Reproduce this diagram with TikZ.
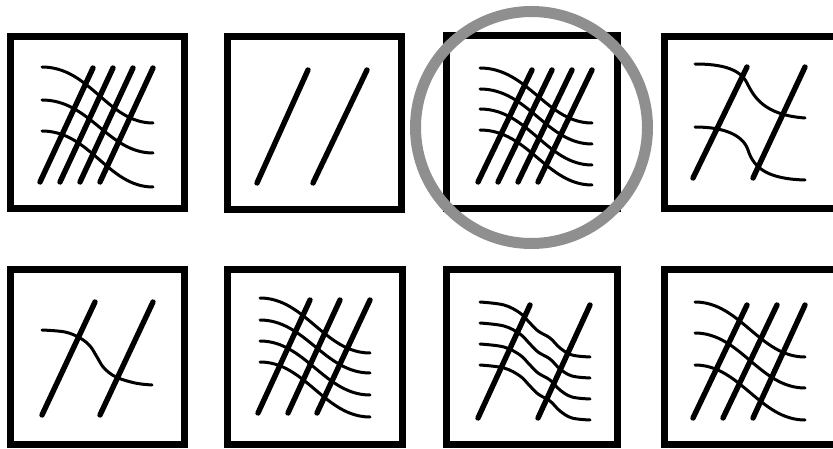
\documentclass[tikz,border=0pt]{standalone}
\definecolor{ringgray}{RGB}{143,143,143}
\begin{document}
\begin{tikzpicture}[x=1pt,y=-1pt,
  frame/.style={line width=7pt},
  fault/.style={line width=5.4pt, line cap=round},
  layer/.style={line width=3pt, line cap=round}]
\useasboundingbox (0,0) rectangle (833,449);
\clip (0,0) rectangle (833,449);
\fill[white] (0,0) rectangle (833,449);
% frames
\draw[frame] (10,37) rectangle (184,209);
\draw[frame] (227,37) rectangle (401,210);
\draw[frame] (446,36) rectangle (617,209);
\draw[frame] (664,37) rectangle (838,209);
\draw[frame] (10,270) rectangle (184,444);
\draw[frame] (227,270) rectangle (402,444);
\draw[frame] (446,270) rectangle (617,444);
\draw[frame] (664,270) rectangle (838,444);
% box 1
\begin{scope}[shift={(10,37)}]
  \foreach \a/\b in {83/30,103/50,123/70,143/90}
    \draw[fault] (\a,31) -- (\b,145);
  \foreach \s/\e in {30/86,63/116,94/150}
    \draw[layer] (32,\s) .. controls +(48,0) and +(-45,0) .. (143,\e);
\end{scope}
% box 2
\begin{scope}[shift={(227,37)}]
  \draw[fault] (81,33) -- (30,146);
  \draw[fault] (140,33) -- (86,146);
\end{scope}
% box 3
\begin{scope}[shift={(446,36)}]
  \foreach \a/\b in {86/32,106/52,126/72,146/92}
    \draw[fault] (\a,34) -- (\b,146);
  \foreach \s/\e in {32/87,53/108,73/129,94/149}
    \draw[layer] (34,\s) .. controls +(48,0) and +(-45,0) .. (146,\e);
\end{scope}
% box 4
\begin{scope}[shift={(664,37)}]
  \draw[fault] (83,30) -- (29,141);
  \draw[fault] (141,30) -- (89,141);
  \draw[layer] (31,27) .. controls (58,27) and (76,32) .. (83,46)
               .. controls (90,60) and (100,78) .. (141,81);
  \draw[layer] (31,90) .. controls (60,90) and (79,98) .. (84,113)
               .. controls (90,132) and (105,142) .. (141,143);
\end{scope}
% box 5
\begin{scope}[shift={(10,270)}]
  \draw[fault] (85,32) -- (32,145);
  \draw[fault] (143,32) -- (90,145);
  \draw[layer] plot[smooth,tension=0.6] coordinates
    {(32,60) (55,62) (70,68) (80,76) (87,87) (94,98) (106,107) (125,113) (142,115)};
\end{scope}
% box 6
\begin{scope}[shift={(227,270)}]
  \foreach \a/\b in {83/31,113/61,143/90}
    \draw[fault] (\a,30) -- (\b,143);
  \foreach \s/\e in {28/83,50/103,71/125,92/147}
    \draw[layer] (33,\s) .. controls +(45,0) and +(-45,0) .. (143,\e);
\end{scope}
% box 7
\begin{scope}[shift={(446,270)}]
  \draw[fault] (84,35) -- (32,148);
  \draw[fault] (144,35) -- (92,148);
  \foreach \s in {32,53,74,95}
    \draw[layer] plot[smooth,tension=0.6] coordinates
      {(34,\s) (58,\s+3) (74,\s+11) (83,\s+20) (92,\s+29) (104,\s+36) (114,\s+46) (126,\s+53) (144,\s+55)};
\end{scope}
% box 8
\begin{scope}[shift={(664,270)}]
  \foreach \a/\b in {83/29,113/59,141/89}
    \draw[fault] (\a,35) -- (\b,148);
  \foreach \s/\e in {32/87,63/118,95/150}
    \draw[layer] (31,\s) .. controls +(45,0) and +(-45,0) .. (141,\e);
\end{scope}
% highlight ring
\draw[ringgray, line width=11pt] (531.5,127.5) circle[radius=116];
\end{tikzpicture}
\end{document}
